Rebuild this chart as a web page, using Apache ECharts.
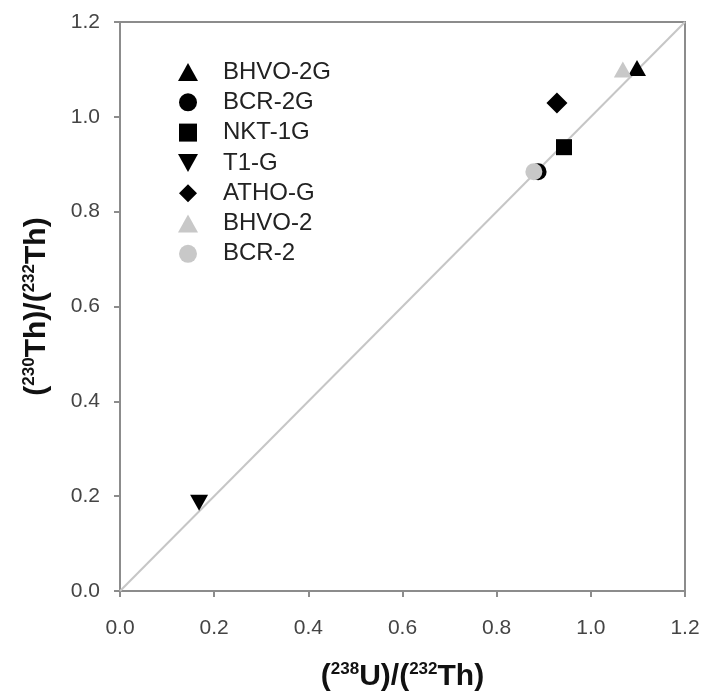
<!DOCTYPE html>
<html>
<head>
<meta charset="utf-8">
<script src="https://cdn.jsdelivr.net/npm/echarts@6/dist/echarts.min.js"></script>
<style>
  html, body { margin: 0; padding: 0; background: #fff; }
  #chart { width: 709px; height: 698px; }
</style>
</head>
<body>
<div id="chart"></div>
<script>
// Activity ratios: [ (238U)/(232Th), (230Th)/(232Th) ]
const seriesNames = ['BHVO-2G', 'BCR-2G', 'NKT-1G', 'T1-G', 'ATHO-G', 'BHVO-2', 'BCR-2'];
const bhvo2g = [[1.098, 1.103]];
const bcr2g  = [[0.888, 0.884]];
const nkt1g  = [[0.943, 0.936]];
const t1g    = [[0.168, 0.186]];
const athog  = [[0.928, 1.029]];
const bhvo2  = [[1.068, 1.100]];
const bcr2   = [[0.879, 0.884]];
const equiline = [[0, 0], [1.2, 1.2]];

const FONT = 'Liberation Sans, Arial, Helvetica, sans-serif';
const UP_TRI   = 'path://M5,0 L10,9 L0,9 Z';
const DOWN_TRI = 'path://M0,0 L10,0 L5,9 Z';
const SQUARE   = 'path://M0,0 L10,0 L10,10 L0,10 Z';
const DIAMOND  = 'path://M5,0 L10,5 L5,10 L0,5 Z';

const markers = [
  { data: bhvo2g, symbol: UP_TRI,   size: [18, 16], color: '#000' },
  { data: bcr2g,  symbol: 'circle', size: 17,       color: '#000' },
  { data: nkt1g,  symbol: SQUARE,   size: 16,       color: '#000' },
  { data: t1g,    symbol: DOWN_TRI, size: [18, 16], color: '#000' },
  { data: athog,  symbol: DIAMOND,  size: 21,       color: '#000' },
  { data: bhvo2,  symbol: UP_TRI,   size: [18, 16], color: '#c8c8c8' },
  { data: bcr2,   symbol: 'circle', size: 17,       color: '#c8c8c8' }
];

const chart = echarts.init(document.getElementById('chart'));

const axisCommon = {
  type: 'value', min: 0, max: 1.2, interval: 0.2,
  axisLine: { show: true, lineStyle: { color: '#8c8c8c', width: 2 } },
  axisTick: { show: true, inside: false, length: 6, lineStyle: { color: '#8c8c8c', width: 2 } },
  splitLine: { show: false },
  axisLabel: { color: '#444', fontSize: 21, fontFamily: FONT, formatter: v => v.toFixed(1) },
  nameLocation: 'middle',
  nameTextStyle: {
    color: '#111', fontSize: 30, fontWeight: 'bold', fontFamily: FONT,
    rich: {
      sup: { fontSize: 17, fontWeight: 'bold', color: '#111', verticalAlign: 'bottom',
             padding: [0, 0, 14, 0], fontFamily: FONT }
    }
  }
};

const series = markers.map((m, i) => ({
  name: seriesNames[i],
  type: 'scatter',
  data: m.data,
  symbol: m.symbol,
  symbolSize: m.size,
  itemStyle: { color: m.color, opacity: 1 },
  z: 3
}));

// 1:1 equiline
series.push({
  name: '1:1',
  type: 'line',
  data: equiline,
  symbol: 'none',
  lineStyle: { color: '#c6c6c6', width: 2 },
  silent: true,
  z: 2
});

chart.setOption({
  animation: false,
  backgroundColor: '#fff',
  grid: {
    left: 120, top: 22, width: 565, height: 569,
    show: true, borderColor: '#8c8c8c', borderWidth: 2, backgroundColor: 'transparent'
  },
  legend: {
    data: seriesNames,
    orient: 'vertical',
    left: 173, top: 55,
    itemWidth: 20, itemHeight: 18, itemGap: 6.3,
    symbolKeepAspect: true,
    textStyle: { color: '#222', fontSize: 24, fontFamily: FONT, padding: [0, 0, 0, 20] }
  },
  xAxis: Object.assign({}, axisCommon, {
    name: '({sup|238}U)/({sup|232}Th)',
    nameGap: 70,
    axisLabel: Object.assign({}, axisCommon.axisLabel, { margin: 27 })
  }),
  yAxis: Object.assign({}, axisCommon, {
    name: '({sup|230}Th)/({sup|232}Th)',
    nameGap: 68,
    nameRotate: 90,
    axisLabel: Object.assign({}, axisCommon.axisLabel, { margin: 20 })
  }),
  series: series
});
</script>
</body>
</html>
